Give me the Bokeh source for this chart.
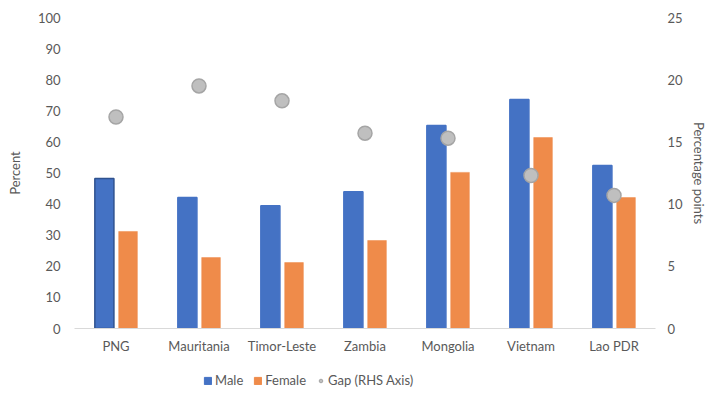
from bokeh.plotting import figure
from bokeh.layouts import column
from bokeh.models import (FactorRange, Range1d, LinearAxis, Legend, LegendItem,
                          ColumnDataSource, SingleIntervalTicker)
from bokeh.transform import dodge
from bokeh.embed import file_html
from bokeh.resources import INLINE

countries = ["PNG", "Mauritania", "Timor-Leste", "Zambia", "Mongolia", "Vietnam", "Lao PDR"]
male = [48.2, 42.1, 39.5, 44.0, 65.3, 73.6, 52.4]
female = [31.2, 22.8, 21.2, 28.3, 50.2, 61.4, 42.1]
gap = [17.0, 19.5, 18.3, 15.7, 15.3, 12.3, 10.7]
male_outline = ["#2F528F", "#4472C4", "#4472C4", "#4472C4", "#4472C4", "#4472C4", "#4472C4"]

FONT = "Lato"
TXT = "#595959"
BLUE = "#4472C4"
ORANGE = "#EF8B4A"
GREY = "#BFBFBF"
GREY_EDGE = "#A5A5A5"

src = ColumnDataSource(dict(c=countries, male=male, female=female, gap=gap, mo=male_outline))

W = 710
p = figure(x_range=FactorRange(*countries, range_padding=0), y_range=Range1d(0, 100),
           width=W, height=358, output_backend="svg", toolbar_location=None,
           min_border_left=74, min_border_right=55, min_border_top=17, min_border_bottom=30)
p.outline_line_color = None
p.grid.grid_line_color = None
p.extra_y_ranges = {"gap": Range1d(0, 25)}

p.vbar(x=dodge("c", -0.14, range=p.x_range), top="male", width=0.23, source=src,
       fill_color=BLUE, line_color="mo", line_width=1.5)
p.vbar(x=dodge("c", 0.145, range=p.x_range), top="female", width=0.225, source=src,
       fill_color=ORANGE, line_color=ORANGE, line_width=0.5)
p.scatter(x="c", y="gap", source=src, y_range_name="gap", size=14,
          fill_color=GREY, line_color=GREY_EDGE, line_width=1.5)

ya = p.yaxis[0]
ya.ticker = SingleIntervalTicker(interval=10)
ya.axis_label = "Percent"

ra = LinearAxis(y_range_name="gap", ticker=SingleIntervalTicker(interval=5),
                axis_label="Percentage points")
p.add_layout(ra, "right")

for ax in [ya, ra]:
    ax.axis_line_color = None
    ax.major_tick_line_color = None
    ax.minor_tick_line_color = None
    ax.major_tick_out = 0
    ax.major_tick_in = 0
    ax.minor_tick_out = 0
    ax.major_label_text_font = FONT
    ax.major_label_text_font_size = "13px"
    ax.major_label_text_color = TXT
    ax.axis_label_text_font = FONT
    ax.axis_label_text_font_size = "13px"
    ax.axis_label_text_font_style = "normal"
    ax.axis_label_text_color = TXT
ya.major_label_standoff = 14
ya.axis_label_standoff = 12
ra.major_label_standoff = 12
ra.axis_label_standoff = 5

xa = p.xaxis[0]
xa.axis_line_color = "#D9D9D9"
xa.major_tick_line_color = None
xa.minor_tick_line_color = None
xa.major_tick_out = 0
xa.major_tick_in = 0
xa.major_label_text_font = FONT
xa.major_label_text_font_size = "13px"
xa.major_label_text_color = TXT
xa.major_label_standoff = 9

# legend strip (dummy renderers outside the visible range only supply legend glyphs)
lf = figure(width=W, height=30, output_backend="svg", toolbar_location=None,
            x_axis_type=None, y_axis_type=None, x_range=Range1d(0, 1), y_range=Range1d(0, 1),
            min_border_left=0, min_border_right=0, min_border_top=0, min_border_bottom=0)
lf.outline_line_color = None
lf.grid.grid_line_color = None
dummy = ColumnDataSource(dict(x=[-5], y=[-5]))
d_m = lf.vbar(x="x", top="y", bottom=-6, width=0.1, source=dummy, fill_color=BLUE, line_color=BLUE)
d_f = lf.vbar(x="x", top="y", bottom=-6, width=0.1, source=dummy, fill_color=ORANGE, line_color=ORANGE)
d_g = lf.scatter(x="x", y="y", source=dummy, size=10, fill_color=GREY, line_color=GREY_EDGE)

legend = Legend(items=[LegendItem(label="Male", renderers=[d_m]),
                       LegendItem(label="Female", renderers=[d_f]),
                       LegendItem(label="Gap (RHS Axis)", renderers=[d_g])],
                orientation="horizontal", location=(129, 0))
legend.label_text_font = FONT
legend.label_text_font_size = "13px"
legend.label_text_color = TXT
legend.border_line_color = None
legend.background_fill_alpha = 0
legend.glyph_width = 9
legend.glyph_height = 9
legend.label_standoff = 3
legend.spacing = 10
legend.padding = 2
legend.margin = 0
lf.add_layout(legend, "center")

layout = column(p, lf, spacing=0)
open("out.html", "w").write(file_html(layout, INLINE))
